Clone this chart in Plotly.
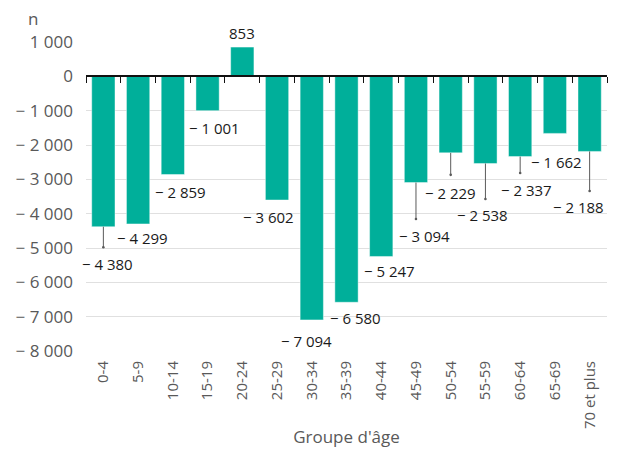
import plotly.graph_objects as go

categories = ["0-4", "5-9", "10-14", "15-19", "20-24", "25-29", "30-34", "35-39",
              "40-44", "45-49", "50-54", "55-59", "60-64", "65-69", "70 et plus"]
values = [-4380, -4299, -2859, -1001, 853, -3602, -7094, -6580,
          -5247, -3094, -2229, -2538, -2337, -1662, -2188]
y_ticks = [1000, 0, -1000, -2000, -3000, -4000, -5000, -6000, -7000, -8000]


def fr(v):
    s = f"{abs(v):,}".replace(",", " ")
    return ("\u2212 " + s) if v < 0 else s


label_offsets = [(4, 37), (4, 14.5), (8, 18), (7, 17), (0, -14), (-9, 16.5), (-5, 21),
                 (9, 16), (8, 15), (9, 53), (0, 40.5), (-3, 52), (6, 33), (2, 29), (-11, 56)]
leaders = {0: 22, 9: 38, 10: 23.5, 11: 37, 12: 18, 14: 41}

FONT = "Open Sans"
n_cat = len(categories)

fig = go.Figure()
fig.add_trace(go.Bar(
    x=categories, y=values,
    marker=dict(color="#00AF9A", line=dict(color="rgba(255,255,255,0.55)", width=0.8)),
    showlegend=False, hoverinfo="x+y", cliponaxis=False,
))
fig.add_trace(go.Bar(x=categories, y=[0] * n_cat, xaxis="x2", showlegend=False,
                     hoverinfo="skip", marker=dict(opacity=0)))

ann = []
for i, (c, v) in enumerate(zip(categories, values)):
    dx, dy = label_offsets[i]
    ann.append(dict(x=c, y=v, xref="x", yref="y", text=fr(v), showarrow=False,
                    xshift=dx, yshift=-dy, xanchor="center", yanchor="middle",
                    font=dict(family=FONT, size=15, color="#1a1a1a")))
    if i in leaders:
        ann.append(dict(x=c, y=v, xref="x", yref="y", text="", showarrow=True,
                        ax=0, ay=leaders[i], arrowhead=0, arrowside="end+start",
                        startarrowhead=6, startarrowsize=0.65, arrowsize=0.6,
                        arrowwidth=1, arrowcolor="#5a5a5a", standoff=0, startstandoff=0))
ann.append(dict(x=(26 - 86) / (619 - 98), y=(450 - 99 - 18) / (450 - 141),
                xref="paper", yref="paper", text="n", showarrow=False,
                xanchor="left", yanchor="middle",
                font=dict(family=FONT, size=17, color="#595959")))

fig.update_layout(
    width=619, height=450,
    margin=dict(l=86, r=12, t=42, b=99),
    paper_bgcolor="white", plot_bgcolor="white",
    bargap=0.33,
    font=dict(family=FONT, color="#595959"),
    xaxis=dict(
        categoryorder="array", categoryarray=categories, range=[-0.5, n_cat - 0.5],
        tickangle=-90, tickfont=dict(family=FONT, size=15, color="#595959"),
        showgrid=False, showline=False, ticks="", automargin=False, ticklabelstandoff=6,
        title=dict(text="Groupe d'âge", font=dict(family=FONT, size=17, color="#595959"), standoff=3),
    ),
    xaxis2=dict(
        overlaying="x", matches="x", anchor="free", position=8000 / 9000,
        showticklabels=False, tickson="boundaries", ticks="outside", ticklen=6,
        tickcolor="#111111", tickwidth=1, showgrid=False, showline=True,
        linecolor="#111111", linewidth=1.5,
    ),
    yaxis=dict(
        range=[-8000, 1000], tickvals=y_ticks, ticktext=[fr(t) for t in y_ticks],
        tickfont=dict(family=FONT, size=17, color="#595959"), showgrid=True, gridcolor="#e0e0e0",
        gridwidth=1, zeroline=False, ticks="", ticklabelstandoff=12, automargin=False,
    ),
    annotations=ann,
)

fig.write_html("out.html", config={"displayModeBar": False},
               post_script="document.body.style.margin='0px';")
